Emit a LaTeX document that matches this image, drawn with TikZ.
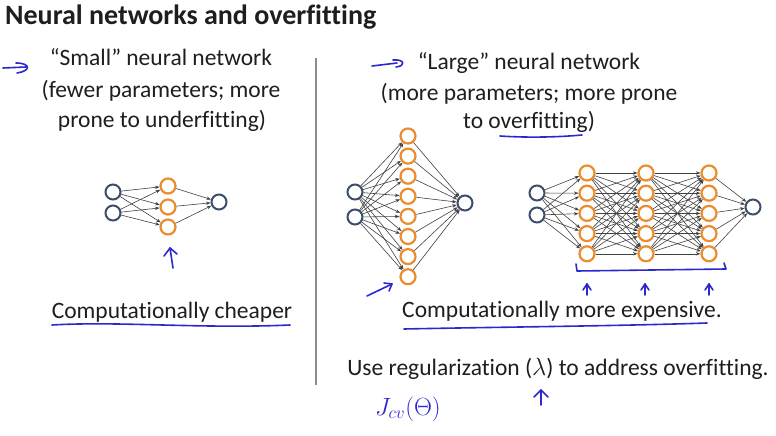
\documentclass[tikz,border=0pt]{standalone}
\usepackage{fontspec}
\setmainfont[Ligatures=NoCommon]{Carlito}
\usetikzlibrary{arrows.meta}
\definecolor{ink}{RGB}{45,40,205}
\definecolor{nblue}{RGB}{60,78,105}
\definecolor{norange}{RGB}{235,140,45}
\definecolor{edgec}{RGB}{65,65,65}
\definecolor{divc}{RGB}{140,140,140}
\definecolor{txtc}{RGB}{30,30,30}
\begin{document}
\begin{tikzpicture}[x=1pt,y=-1pt,
 inp/.style={circle,draw=nblue,line width=2pt,minimum size=15pt,inner sep=0pt},
 hid/.style={circle,draw=norange,line width=2.2pt,minimum size=15pt,inner sep=0pt},
 con/.style={draw=edgec,line width=0.6pt,-{Stealth[length=4.5pt,width=3.4pt]}},
 inkline/.style={draw=ink,line width=1.6pt,line cap=round,line join=round},
 txt/.style={font=\fontsize{23.5}{28}\selectfont,text=txtc,inner sep=0pt,anchor=base},
]
\useasboundingbox[fill=white] (0,0) rectangle (776,436);

% title
\node[anchor=base west,font=\bfseries\fontsize{28}{32}\selectfont,text=txtc,inner sep=0pt] (title) at (5,25) {Neural networks and overfitting};

% divider
\coordinate (dtop) at (316,58);
\coordinate (dbot) at (316,385);
\draw[divc,line width=1.2pt] (dtop) -- (dbot);

% left texts
\node[txt] (l1) at (161,66) {“Small” neural network};
\node[txt] (l2) at (161,97) {(fewer parameters; more};
\node[txt] (l3) at (162,127) {prone to underfitting)};
\node[txt] (lc) at (172,318) {Computationally cheaper};

% right texts
\node[txt] (r1) at (529,70) {“Large” neural network};
\node[txt] (r2) at (529,100) {(more parameters; more prone};
\node[txt] (r3) at (529,128) {to overfitting)};
\node[txt] (rc) at (562,317) {Computationally more expensive.};
\node[txt] (rr) at (558,375) {Use regularization ($\lambda$) to address overfitting.};
\node[font=\fontsize{24}{28}\selectfont,text=ink,inner sep=0pt] (jcv) at (408,409) {$J_{cv}(\Theta)$};

% small network
\foreach \i/\y in {1/192,2/213} \node[inp] (sa\i) at (113,\y) {};
\foreach \i/\y in {1/186,2/207,3/227} \node[hid] (sh\i) at (168,\y) {};
\node[inp] (so) at (219,202) {};
\foreach \i in {1,2} \foreach \j in {1,2,3} \draw[con] (sa\i) -- (sh\j);
\foreach \j in {1,2,3} \draw[con] (sh\j) -- (so);

% large network 1
\foreach \i/\y in {1/192,2/217} \node[inp] (ba\i) at (355,\y) {};
\foreach \j in {1,...,8} \node[hid] (bh\j) at (408,{136+20.1*(\j-1)}) {};
\node[inp] (bo) at (465,203) {};
\foreach \i in {1,2} \foreach \j in {1,...,8} \draw[con] (ba\i) -- (bh\j);
\foreach \j in {1,...,8} \draw[con] (bh\j) -- (bo);

% large network 2
\foreach \i/\y in {1/193,2/215} \node[inp] (ca\i) at (537,\y) {};
\foreach \L/\x in {1/587,2/646,3/709}
  \foreach \j in {1,...,5} \node[hid] (c\L h\j) at (\x,{173+20.2*(\j-1)}) {};
\node[inp] (co) at (753,207) {};
\foreach \i in {1,2} \foreach \j in {1,...,5} \draw[con] (ca\i) -- (c1h\j);
\foreach \i in {1,...,5} \foreach \j in {1,...,5} {
  \draw[con] (c1h\i) -- (c2h\j);
  \draw[con] (c2h\i) -- (c3h\j);
}
\foreach \j in {1,...,5} \draw[con] (c3h\j) -- (co);

% handwriting
\draw[inkline] (3,68) -- (26,67);
\draw[inkline] (16,63) .. controls (31,63) and (31,71) .. (17,73);
\draw[inkline] (372,66) -- (397,63);
\draw[inkline] (393,60) .. controls (405,59) and (406,66) .. (396,67);
\draw[inkline] (500,136) .. controls (530,138) and (560,137) .. (582,135);
\draw[inkline] (173,268) -- (170,248);
\draw[inkline] (164,256) -- (170,248) -- (177,254);
\draw[inkline] (52,325) .. controls (120,321) and (200,329) .. (290,325);
\draw[inkline] (367,296) -- (392,284);
\draw[inkline] (384,283) -- (392,284) -- (389,291);
\draw[inkline] (576,264) -- (577,271) -- (726,269) -- (724,263);
\foreach \x in {587,645,709} {
  \draw[inkline] (\x,295) -- (\x,284);
  \draw[inkline] (\x-4,290) -- (\x,284) -- (\x+4,290);
}
\draw[inkline] (404,329) .. controls (500,327) and (620,326) .. (707,323);
\draw[inkline] (541,405) -- (541,390);
\draw[inkline] (534,397) -- (541,390) -- (548,397);
\end{tikzpicture}
\end{document}
